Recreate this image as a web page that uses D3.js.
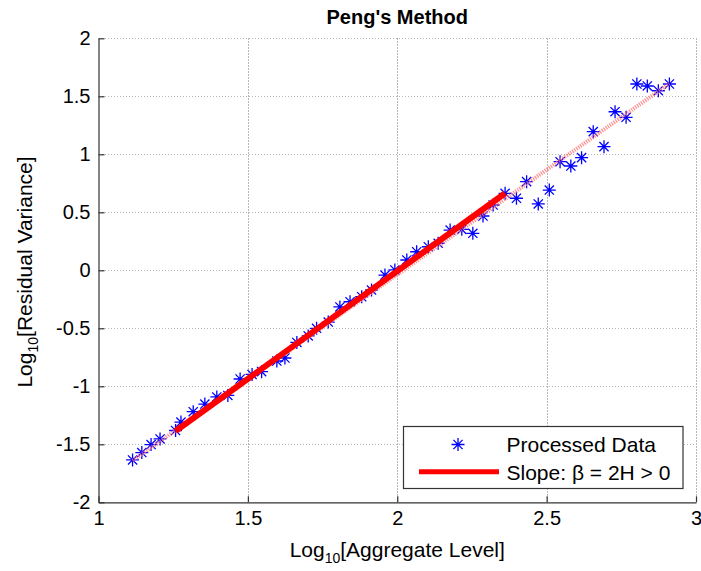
<!DOCTYPE html>
<html>
<head>
<meta charset="utf-8">
<script src="https://cdn.jsdelivr.net/npm/d3@7"></script>
<style>
  html, body { margin: 0; padding: 0; background: #fff; }
  svg { display: block; font-family: "Liberation Sans", Arial, sans-serif; }
</style>
</head>
<body>
<svg id="chart" width="701" height="571"></svg>
<script>
// ---- Data ----
const xVals = [1.114, 1.145, 1.176, 1.206, 1.258, 1.276, 1.317, 1.356, 1.396, 1.433,
               1.474, 1.514, 1.546, 1.597, 1.624, 1.664, 1.702, 1.730, 1.769, 1.808,
               1.842, 1.881, 1.914, 1.959, 1.992, 2.032, 2.065, 2.104, 2.137, 2.177,
               2.216, 2.253, 2.287, 2.321, 2.361, 2.399, 2.433, 2.472, 2.509, 2.545,
               2.581, 2.617, 2.656, 2.692, 2.729, 2.766, 2.802, 2.837, 2.874, 2.911];
const yVals = [-1.635, -1.571, -1.502, -1.454, -1.381, -1.308, -1.219, -1.153, -1.092, -1.079,
               -0.937, -0.898, -0.874, -0.782, -0.756, -0.622, -0.566, -0.500, -0.446, -0.316,
               -0.271, -0.228, -0.170, -0.041, 0.003, 0.089, 0.160, 0.203, 0.233, 0.347,
               0.353, 0.319, 0.468, 0.563, 0.664, 0.621, 0.764, 0.572, 0.692, 0.936,
               0.899, 0.971, 1.195, 1.066, 1.367, 1.319, 1.606, 1.589, 1.548, 1.606];
// fitted slope segment (thick red) and overall trend (dotted pink)
const fitX = [1.258, 2.361];
const fitY = [-1.385, 0.664];
const trendX = [1.114, 2.911];
const trendY = [-1.64, 1.61];
const xTicks = [1, 1.5, 2, 2.5, 3];
const yTicks = [-2, -1.5, -1, -0.5, 0, 0.5, 1, 1.5, 2];
const titleText = "Peng's Method";
const legendLabels = ["Processed Data", "Slope: \u03B2 = 2H > 0"];

// ---- Layout ----
const svg = d3.select("#chart");
const L = 98.5, R = 696, T = 38.3, B = 502.3;
const x = d3.scaleLinear().domain([1, 3]).range([L, R]);
const y = d3.scaleLinear().domain([-2, 2]).range([B, T]);
const FT = 20;   // tick labels
const FS = 21;   // axis labels / legend

// grid
const grid = svg.append("g").attr("stroke", "#b8b8b8").attr("stroke-width", 1)
  .attr("stroke-dasharray", "1.5,1.5").attr("shape-rendering", "crispEdges");
grid.selectAll("line.gx").data(xTicks.filter(d => d > 1)).join("line")
  .attr("x1", d => Math.round(x(d)) + 0.5).attr("x2", d => Math.round(x(d)) + 0.5)
  .attr("y1", T).attr("y2", B);
grid.selectAll("line.gy").data(yTicks.filter(d => d > -2)).join("line")
  .attr("y1", d => Math.round(y(d)) + 0.5).attr("y2", d => Math.round(y(d)) + 0.5)
  .attr("x1", L).attr("x2", R);

// axes
const fmt = d => String(d);
const xAxis = svg.append("g").attr("transform", `translate(0,${B})`)
  .call(d3.axisBottom(x).tickValues(xTicks).tickFormat(fmt).tickSizeInner(-6).tickSizeOuter(0).tickPadding(9));
const yAxis = svg.append("g").attr("transform", `translate(${L},0)`)
  .call(d3.axisLeft(y).tickValues(yTicks).tickFormat(fmt).tickSizeInner(-6).tickSizeOuter(0).tickPadding(8));
[xAxis, yAxis].forEach(a => {
  a.selectAll("path.domain").attr("stroke", "#333").attr("stroke-width", 1.2);
  a.selectAll(".tick line").attr("stroke", "#333").attr("stroke-width", 1.2);
  a.selectAll("text").attr("font-size", FT).attr("fill", "#000")
    .attr("font-family", "'Liberation Sans', Arial, sans-serif");
});

// markers
const star = "M0,-6.5V6.5M-6.5,0H6.5M-4.6,-4.6L4.6,4.6M-4.6,4.6L4.6,-4.6";
const pts = xVals.map((d, i) => [d, yVals[i]]);
svg.append("g").selectAll("path").data(pts).join("path")
  .attr("d", star)
  .attr("transform", d => `translate(${x(d[0])},${y(d[1])})`)
  .attr("fill", "none").attr("stroke", "#0000ff").attr("stroke-width", 1.3);

// trend (dotted pink)
const line = d3.line().x(d => x(d[0])).y(d => y(d[1]));
svg.append("path").datum(trendX.map((d, i) => [d, trendY[i]]))
  .attr("d", line).attr("fill", "none")
  .attr("stroke", "#ff7070").attr("stroke-opacity", 0.8)
  .attr("stroke-width", 4).attr("stroke-dasharray", "1.2,1.2");

// fit (thick red)
svg.append("path").datum(fitX.map((d, i) => [d, fitY[i]]))
  .attr("d", line).attr("fill", "none")
  .attr("stroke", "#ff0000").attr("stroke-width", 6);

// title
svg.append("text").attr("x", (L + R) / 2).attr("y", 24).attr("text-anchor", "middle")
  .attr("font-size", 20).attr("font-weight", "bold").text(titleText);

// x label
const xl = svg.append("text").attr("x", (L + R) / 2).attr("y", 557).attr("text-anchor", "middle")
  .attr("font-size", FS);
xl.append("tspan").text("Log");
xl.append("tspan").attr("font-size", 14).attr("dy", 6).text("10");
xl.append("tspan").attr("dy", -6).text("[Aggregate Level]");

// y label
const yl = svg.append("text").attr("transform", "translate(31.5,272) rotate(-90)")
  .attr("text-anchor", "middle").attr("font-size", FS);
yl.append("tspan").text("Log");
yl.append("tspan").attr("font-size", 14).attr("dy", 6).text("10");
yl.append("tspan").attr("dy", -6).text("[Residual Variance]");

// legend
const lg = svg.append("g");
lg.append("rect").attr("x", 403.5).attr("y", 426.5).attr("width", 279.5).attr("height", 62)
  .attr("fill", "#fff").attr("stroke", "#333").attr("stroke-width", 1.2);
lg.append("path").attr("d", star).attr("transform", "translate(458,444.5)")
  .attr("fill", "none").attr("stroke", "#0000ff").attr("stroke-width", 1.3);
lg.append("line").attr("x1", 419).attr("x2", 499).attr("y1", 471.7).attr("y2", 471.7)
  .attr("stroke", "#ff0000").attr("stroke-width", 5);
lg.selectAll("text").data(legendLabels).join("text")
  .attr("x", 506.5).attr("y", (d, i) => 452 + i * 28)
  .attr("font-size", FS).text(d => d);
</script>
</body>
</html>
